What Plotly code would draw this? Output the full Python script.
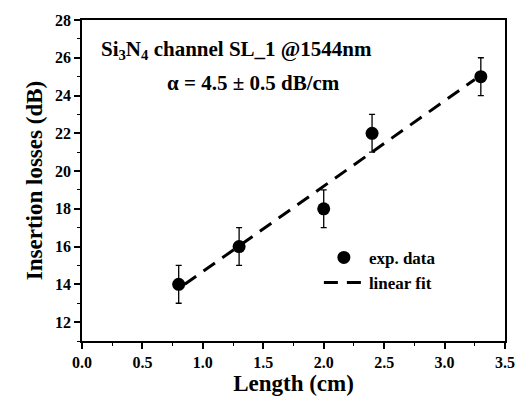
import plotly.graph_objects as go

length_cm = [0.8, 1.3, 2.0, 2.4, 3.3]
loss_db = [14.0, 16.0, 18.0, 22.0, 25.0]
err_db = [1.0, 1.0, 1.0, 1.0, 1.0]
fit_x = [0.85, 3.25]
fit_y = [14.0, 24.85]
x_ticks = [0.0, 0.5, 1.0, 1.5, 2.0, 2.5, 3.0, 3.5]
x_labels = ["0.0", "0.5", "1.0", "1.5", "2.0", "2.5", "3.0", "3.5"]
y_ticks = [12, 14, 16, 18, 20, 22, 24, 26, 28]
y_labels = ["12", "14", "16", "18", "20", "22", "24", "26", "28"]

FONT = "Liberation Serif"

fig = go.Figure()
fig.add_trace(go.Scatter(
    x=length_cm, y=loss_db, mode="markers", name="<b>exp. data</b>",
    marker=dict(color="black", size=13),
    error_y=dict(type="data", array=err_db, color="black", thickness=1.3, width=3),
))
fig.add_trace(go.Scatter(
    x=fit_x, y=fit_y, mode="lines", name="<b>linear fit</b>",
    line=dict(color="black", width=3, dash="14px,9px"),
))

axis_common = dict(
    showline=True, linecolor="black", linewidth=1.5, mirror=True,
    showgrid=False, zeroline=False, ticks="outside", ticklen=6, tickwidth=1.5,
    tickcolor="black",
    tickfont=dict(family=FONT, size=16, color="black"),
)

fig.update_xaxes(
    range=[0, 3.5], tickvals=x_ticks, ticktext=["<b>%s</b>" % t for t in x_labels],
    minor=dict(dtick=0.25, ticks="outside", ticklen=3, tickcolor="black", tickwidth=1.2),
    title=dict(text="<b>Length (cm)</b>", font=dict(family=FONT, size=23, color="black"), standoff=2),
    **axis_common,
)
fig.update_yaxes(
    range=[11, 28], tickvals=y_ticks, ticktext=["<b>%s</b>" % t for t in y_labels],
    minor=dict(dtick=1, ticks="outside", ticklen=3, tickcolor="black", tickwidth=1.2),
    title=dict(text="<b>Insertion losses (dB)</b>", font=dict(family=FONT, size=23, color="black"), standoff=6),
    **axis_common,
)

fig.add_annotation(
    x=0.04, y=0.905, xref="paper", yref="paper", xanchor="left", yanchor="middle",
    text="<b>Si<sub>3</sub>N<sub>4</sub> channel SL_1 @1544nm</b>",
    showarrow=False, font=dict(family=FONT, size=21, color="black"),
)
fig.add_annotation(
    x=0.405, y=0.805, xref="paper", yref="paper", xanchor="center", yanchor="middle",
    text="<b>α = 4.5 ± 0.5 dB/cm</b>",
    showarrow=False, font=dict(family=FONT, size=21, color="black"),
)

fig.update_layout(
    width=527, height=401,
    margin=dict(l=82, r=16, t=20, b=55),
    paper_bgcolor="white", plot_bgcolor="white",
    showlegend=True,
    legend=dict(
        x=0.56, y=0.315, xanchor="left", yanchor="top",
        bgcolor="rgba(0,0,0,0)", font=dict(family=FONT, size=17, color="black"),
        itemwidth=40, tracegroupgap=0,
    ),
)

fig.write_html("out.html")
